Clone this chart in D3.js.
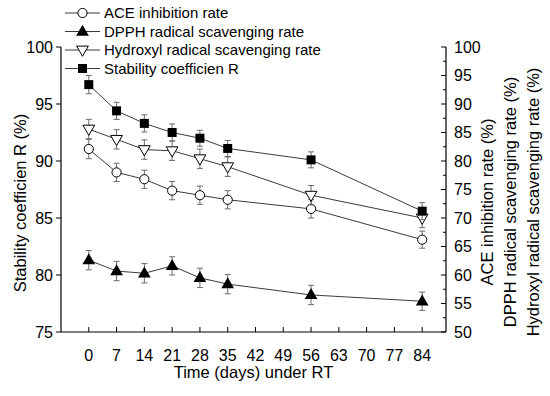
<!DOCTYPE html>
<html>
<head>
<meta charset="utf-8">
<script src="https://cdn.jsdelivr.net/npm/d3@7"></script>
<style>
  body { margin: 0; background: #fff; }
  svg { font-family: "Liberation Sans", Arial, sans-serif; }
</style>
</head>
<body>
<svg id="chart" width="550" height="396"></svg>
<script>
// days of storage
var days = [0, 7, 14, 21, 28, 35, 56, 84];
var xTicks = [0, 7, 14, 21, 28, 35, 42, 49, 56, 63, 70, 77, 84];

// left axis: stability coefficient R (%)
var stability = [96.7, 94.4, 93.3, 92.5, 92.0, 91.1, 90.1, 85.6];
var stabilityErr = [0.8, 0.75, 0.75, 0.75, 0.7, 0.7, 0.7, 0.75];

// right axis (%)
var ace = [82.1, 78.0, 76.8, 74.8, 74.0, 73.2, 71.6, 66.2];
var aceErr = [1.7, 1.6, 1.6, 1.6, 1.6, 1.6, 1.6, 1.5];
var dpph = [62.6, 60.7, 60.3, 61.6, 59.5, 58.4, 56.5, 55.4];
var dpphErr = [1.7, 1.7, 1.7, 1.6, 1.7, 1.7, 1.7, 1.6];
var hydroxyl = [85.6, 83.8, 82.0, 81.8, 80.4, 79.0, 74.0, 70.0];
var hydroxylErr = [1.7, 1.7, 1.7, 1.7, 1.7, 1.7, 1.7, 1.7];

var leftTicks = [75, 80, 85, 90, 95, 100];
var rightTicks = [50, 55, 60, 65, 70, 75, 80, 85, 90, 95, 100];

var svg = d3.select("#chart");
var L = 61, R = 446, T = 47, B = 332;

var x = d3.scaleLinear().domain([-7, 90]).range([L, R]);
var yL = d3.scaleLinear().domain([75, 100]).range([B, T]);
var yR = d3.scaleLinear().domain([50, 100]).range([B, T]);

var lineCol = "#3a3a3a", errCol = "#6a6a6a";

// axes
svg.append("line").attr("x1", L).attr("x2", R).attr("y1", B).attr("y2", B)
  .attr("stroke", "#000").attr("stroke-width", 1.2);
svg.append("line").attr("x1", L).attr("x2", L).attr("y1", T).attr("y2", B)
  .attr("stroke", "#000").attr("stroke-width", 1.2);
svg.append("line").attr("x1", R).attr("x2", R).attr("y1", T).attr("y2", B)
  .attr("stroke", "#000").attr("stroke-width", 1.2);

// x ticks (inward)
var gx = svg.append("g");
xTicks.forEach(function(d) {
  gx.append("line").attr("x1", x(d)).attr("x2", x(d)).attr("y1", B).attr("y2", B - 5)
    .attr("stroke", "#000");
  gx.append("text").attr("x", x(d)).attr("y", B + 29).attr("text-anchor", "middle")
    .attr("font-size", 16).text(d);
});

// left ticks (outward)
leftTicks.forEach(function(d) {
  svg.append("line").attr("x1", L - 5).attr("x2", L).attr("y1", yL(d)).attr("y2", yL(d))
    .attr("stroke", "#000");
  svg.append("text").attr("x", L - 8).attr("y", yL(d)).attr("dy", "0.36em")
    .attr("text-anchor", "end").attr("font-size", 16).text(d);
});

// right ticks (inward) with minor ticks
rightTicks.forEach(function(d) {
  svg.append("line").attr("x1", R - 5).attr("x2", R).attr("y1", yR(d)).attr("y2", yR(d))
    .attr("stroke", "#000");
  svg.append("text").attr("x", R + 8).attr("y", yR(d)).attr("dy", "0.36em")
    .attr("text-anchor", "start").attr("font-size", 16).text(d);
  if (d < 100) {
    svg.append("line").attr("x1", R - 3).attr("x2", R).attr("y1", yR(d + 2.5)).attr("y2", yR(d + 2.5))
      .attr("stroke", "#000");
  }
});

// axis titles
svg.append("text").attr("x", x(41.5)).attr("y", 378).attr("text-anchor", "middle")
  .attr("font-size", 16.5).text("Time (days) under RT");
svg.append("text").attr("transform", "translate(26,203) rotate(-90)")
  .attr("text-anchor", "middle").attr("font-size", 16.5).text("Stability coefficien R (%)");
var rightTitles = ["ACE inhibition rate (%)", "DPPH radical scavenging rate (%)", "Hydroxyl radical scavenging rate (%)"];
rightTitles.forEach(function(t, i) {
  svg.append("text").attr("transform", "translate(" + (493 + i * 23) + ",202) rotate(-90)")
    .attr("text-anchor", "middle").attr("font-size", 16.5).text(t);
});

var series = [
  { name: "ACE inhibition rate", vals: ace, err: aceErr, y: yR, marker: "circle" },
  { name: "DPPH radical scavenging rate", vals: dpph, err: dpphErr, y: yR, marker: "triUp" },
  { name: "Hydroxyl radical scavenging rate", vals: hydroxyl, err: hydroxylErr, y: yR, marker: "triDown" },
  { name: "Stability coefficien R", vals: stability, err: stabilityErr, y: yL, marker: "square" }
];

function drawMarker(g, type, cx, cy) {
  if (type === "circle") {
    g.append("circle").attr("cx", cx).attr("cy", cy).attr("r", 4.6)
      .attr("fill", "#fff").attr("stroke", "#000").attr("stroke-width", 1);
  } else if (type === "square") {
    g.append("rect").attr("x", cx - 4.5).attr("y", cy - 4.5).attr("width", 9).attr("height", 9)
      .attr("fill", "#000");
  } else if (type === "triUp") {
    g.append("path").attr("d", d3.symbol().type(d3.symbolTriangle).size(70)())
      .attr("transform", "translate(" + cx + "," + (cy + 0.5) + ")").attr("fill", "#000");
  } else {
    g.append("path").attr("d", d3.symbol().type(d3.symbolTriangle).size(60)())
      .attr("transform", "translate(" + cx + "," + (cy - 0.5) + ") rotate(180)")
      .attr("fill", "#fff").attr("stroke", "#000").attr("stroke-width", 1);
  }
}

var line = d3.line();
series.forEach(function(s) {
  var g = svg.append("g");
  var pts = days.map(function(d, i) { return [x(d), s.y(s.vals[i])]; });
  g.append("path").attr("d", line(pts)).attr("fill", "none")
    .attr("stroke", lineCol).attr("stroke-width", 1);
  days.forEach(function(d, i) {
    var cx = x(d), y1 = s.y(s.vals[i] + s.err[i]), y2 = s.y(s.vals[i] - s.err[i]);
    g.append("line").attr("x1", cx).attr("x2", cx).attr("y1", y1).attr("y2", y2)
      .attr("stroke", errCol).attr("stroke-width", 1);
    [y1, y2].forEach(function(yy) {
      g.append("line").attr("x1", cx - 3).attr("x2", cx + 3).attr("y1", yy).attr("y2", yy)
        .attr("stroke", errCol).attr("stroke-width", 1);
    });
  });
  days.forEach(function(d, i) { drawMarker(g, s.marker, x(d), s.y(s.vals[i])); });
});

// legend
series.forEach(function(s, i) {
  var ly = 13 + i * 18.5;
  var g = svg.append("g");
  g.append("line").attr("x1", 65).attr("x2", 100).attr("y1", ly).attr("y2", ly)
    .attr("stroke", lineCol).attr("stroke-width", 1);
  drawMarker(g, s.marker, 82.5, ly);
  g.append("text").attr("x", 104).attr("y", ly).attr("dy", "0.36em")
    .attr("font-size", 15).text(s.name);
});
</script>
</body>
</html>
